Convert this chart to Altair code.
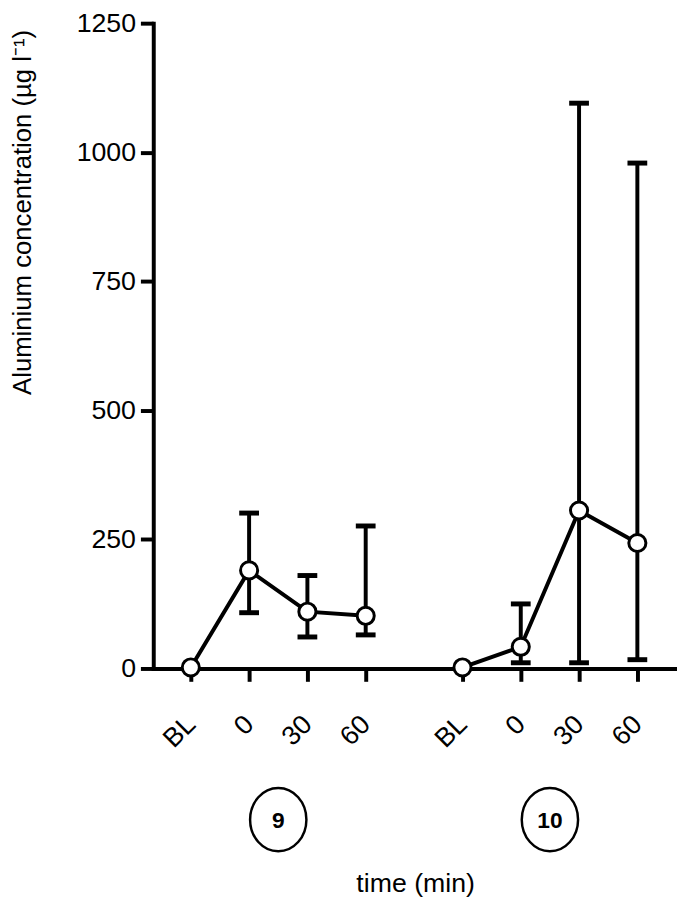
import altair as alt
import pandas as pd

# ---- data ----
time_labels = ["BL", "0", "30", "60"]
subjects = ["9", "10"]
mean_9 = [2, 190, 110, 102]
low_9 = [None, 108, 61, 65]
high_9 = [None, 301, 180, 276]
mean_10 = [2, 42, 306, 243]
low_10 = [None, 11, 11, 17]
high_10 = [None, 125, 1095, 979]
y_ticks = [0, 250, 500, 750, 1000, 1250]

# slot layout of the categorical x axis (group 10 starts after a gap)
group_start = {"9": 1.0, "10": 5.66}

rows = []
for subj, means, lows, highs in [("9", mean_9, low_9, high_9),
                                 ("10", mean_10, low_10, high_10)]:
    for i, lab in enumerate(time_labels):
        rows.append(dict(subject=subj, time=lab, pos=group_start[subj] + i,
                         mean=means[i], low=lows[i], high=highs[i]))
df = pd.DataFrame(rows)
err = df.dropna(subset=["low", "high"])

grp = pd.DataFrame({"subject": subjects,
                    "pos": [group_start[s] + 1.5 for s in subjects]})

tick_pos = list(df["pos"])
label_expr = " : ".join(
    f"abs(datum.value - {p}) < 0.01 ? '{lab}'"
    for p, lab in zip(df["pos"], df["time"])) + " : ''"

FONT = "Liberation Sans"
PLOT_H = 653

x_scale = alt.Scale(domain=[0.356, 9.34], nice=False, zero=False)
x_axis = alt.Axis(values=tick_pos, labelExpr=label_expr, labelAngle=315,
                  labelAlign="right", labelBaseline="middle", labelPadding=39,
                  labelOverlap=False, labelFlush=False, labelFontSize=27,
                  title="time (min)", titleX=265, titleY=226,
                  titleAlign="center", titleBaseline="alphabetic",
                  titleAngle=0, titleFontSize=27)
y_scale = alt.Scale(domain=[0, 1250], nice=False)
y_axis = alt.Axis(values=y_ticks, format="d", labelPadding=5, labelFontSize=27,
                  title="Aluminium concentration (µg l⁻¹)",
                  titleX=-132, titleY=191, titleAngle=270, titleFontSize=26,
                  titleAlign="center", titleBaseline="middle")

X = alt.X("pos:Q", scale=x_scale, axis=x_axis)

bars = alt.Chart(err).mark_rule(color="black", strokeWidth=4).encode(
    x=X,
    y=alt.Y("low:Q", scale=y_scale, axis=y_axis),
    y2="high:Q",
)
cap_lo = alt.Chart(err).mark_tick(color="black", orient="horizontal",
                                  size=20, thickness=5, opacity=1).encode(
    x=X, y=alt.Y("low:Q", scale=y_scale, axis=y_axis))
cap_hi = alt.Chart(err).mark_tick(color="black", orient="horizontal",
                                  size=20, thickness=5, opacity=1).encode(
    x=X, y=alt.Y("high:Q", scale=y_scale, axis=y_axis))

line = alt.Chart(df).mark_line(color="black", strokeWidth=4).encode(
    x=X,
    y=alt.Y("mean:Q", scale=y_scale, axis=y_axis),
    detail="subject:N",
    order="pos:Q",
)
pts = alt.Chart(df).mark_point(filled=True, fill="white", stroke="black",
                               strokeWidth=3, size=300, opacity=1,
                               shape="circle").encode(
    x=X,
    y=alt.Y("mean:Q", scale=y_scale, axis=y_axis),
)

ellipse = "M -0.89,0 A 0.89,1 0 1,1 0.89,0 A 0.89,1 0 1,1 -0.89,0 Z"
rings = alt.Chart(grp).mark_point(shape=ellipse, size=4100, fill=None,
                                  stroke="black", strokeWidth=2.5,
                                  opacity=1).encode(
    x=X, y=alt.value(806))
ring_txt = alt.Chart(grp).mark_text(font=FONT, fontSize=23, fontWeight="bold",
                                    color="black", baseline="middle",
                                    align="center").encode(
    x=X, y=alt.value(807), text="subject:N")

chart = alt.layer(bars, cap_lo, cap_hi, line, pts, rings, ring_txt).properties(
    width=530, height=PLOT_H,
    autosize=alt.AutoSizeParams(type="none"),
    padding={"left": 147, "top": 10, "right": 0, "bottom": 233},
).configure_view(stroke=None).configure_axis(
    grid=False,
    domainColor="black", domainWidth=4, domainCap="square",
    tickColor="black", tickWidth=4, tickSize=13,
    labelFont=FONT, labelColor="black",
    titleFont=FONT, titleFontWeight="normal",
    titleColor="black",
)

chart.save("out.html", embed_options={"renderer": "svg", "actions": False})
